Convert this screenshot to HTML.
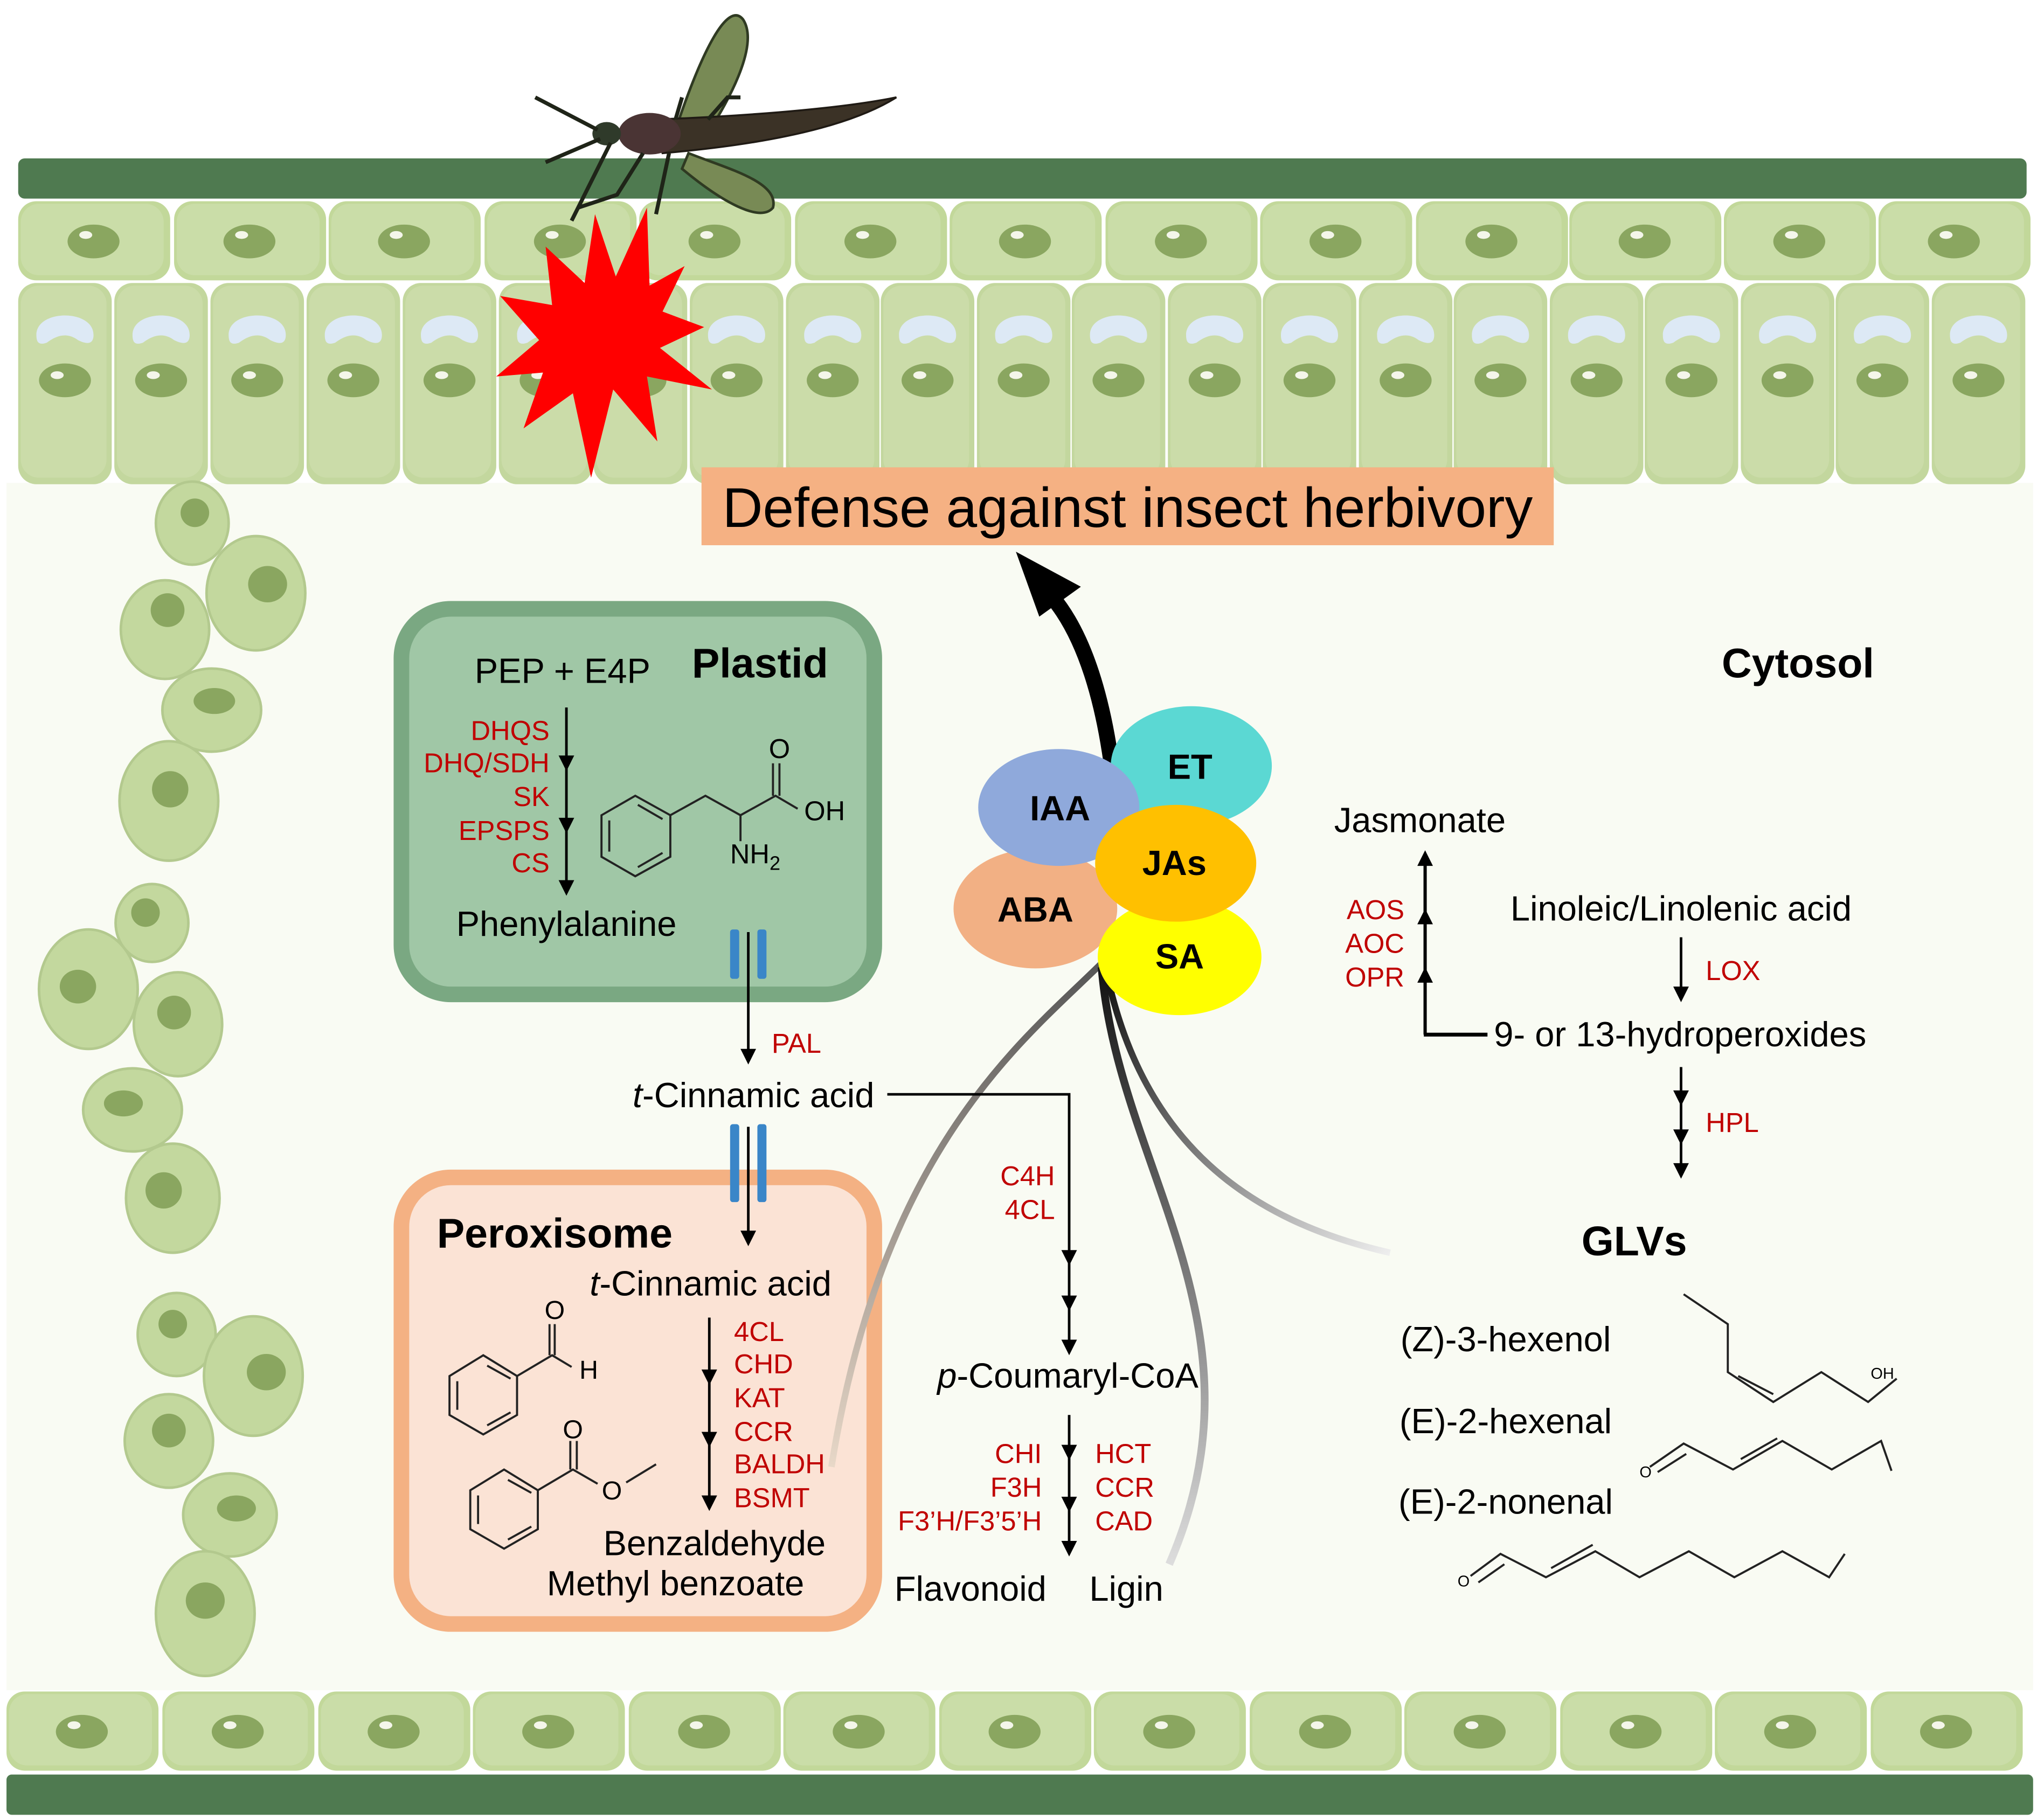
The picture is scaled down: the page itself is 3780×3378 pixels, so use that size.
<!DOCTYPE html>
<html><head><meta charset="utf-8"><style>
html,body{margin:0;padding:0;background:#fff;}
svg{display:block;}
text{font-family:"Liberation Sans",Arial,sans-serif;}
.r{fill:#c00000;font-size:21px;}
.k{fill:#000;font-size:27px;}
.b{font-weight:bold;font-size:32px;}
.mol{fill:none;stroke:#222;stroke-width:1.6;}
</style></head><body>
<svg width="3780" height="3378" viewBox="0 0 1568 1402" preserveAspectRatio="none" xmlns="http://www.w3.org/2000/svg">
<defs>
<linearGradient id="g1" x1="0" y1="0" x2="0" y2="1"><stop offset="0" stop-color="#555"/><stop offset="1" stop-color="#e8d8c8"/></linearGradient>
<linearGradient id="g2" x1="0" y1="0" x2="0" y2="1"><stop offset="0" stop-color="#111"/><stop offset="1" stop-color="#ddd"/></linearGradient>
<linearGradient id="g3" x1="0" y1="0" x2="1" y2="1"><stop offset="0" stop-color="#111"/><stop offset="1" stop-color="#eee"/></linearGradient>
<g id="tc"><rect x="0" y="0" width="117" height="61" rx="14" fill="#c2d89a"/><rect x="2" y="2" width="110" height="55" rx="14" fill="#cadda8"/><ellipse cx="58" cy="31" rx="20" ry="13" fill="#8aa660"/><ellipse cx="52" cy="26" rx="5" ry="3" fill="#f4f6ea"/></g>
<g id="tall"><rect x="0" y="0" width="72" height="155" rx="14" fill="#c3d79e"/><rect x="2" y="2" width="66" height="148" rx="14" fill="#cbdca9"/><path d="M14 40 C14 20 58 20 58 40 C58 48 52 47 46 44 C38 38 30 40 22 46 C16 48 14 46 14 40Z" fill="#dde9f5"/><ellipse cx="36" cy="75" rx="20" ry="13" fill="#8aa660"/><ellipse cx="30" cy="71" rx="5" ry="3" fill="#f4f6ea"/></g>
</defs>
<rect width="1568" height="1402" fill="#fff"/>
<rect x="5" y="372" width="1560" height="930" fill="#f9fbf3"/>
<rect x="14" y="122" width="1546" height="31" rx="5" fill="#4f7a50"/>
<g>
<use href="#tc" x="14" y="155"/><use href="#tc" x="134" y="155"/><use href="#tc" x="253" y="155"/><use href="#tc" x="373" y="155"/><use href="#tc" x="492" y="155"/><use href="#tc" x="612" y="155"/><use href="#tc" x="731" y="155"/><use href="#tc" x="851" y="155"/><use href="#tc" x="970" y="155"/><use href="#tc" x="1090" y="155"/><use href="#tc" x="1208" y="155"/><use href="#tc" x="1327" y="155"/><use href="#tc" x="1446" y="155"/>
</g>
<g>
<use href="#tall" x="14" y="218"/><use href="#tall" x="88" y="218"/><use href="#tall" x="162" y="218"/><use href="#tall" x="236" y="218"/><use href="#tall" x="310" y="218"/><use href="#tall" x="384" y="218"/><use href="#tall" x="457" y="218"/><use href="#tall" x="531" y="218"/><use href="#tall" x="605" y="218"/><use href="#tall" x="678" y="218"/><use href="#tall" x="752" y="218"/><use href="#tall" x="825" y="218"/><use href="#tall" x="899" y="218"/><use href="#tall" x="972" y="218"/><use href="#tall" x="1046" y="218"/><use href="#tall" x="1119" y="218"/><use href="#tall" x="1193" y="218"/><use href="#tall" x="1266" y="218"/><use href="#tall" x="1340" y="218"/><use href="#tall" x="1413" y="218"/><use href="#tall" x="1487" y="218"/>
</g>
<g>
<use href="#tc" x="5" y="1303"/><use href="#tc" x="125" y="1303"/><use href="#tc" x="245" y="1303"/><use href="#tc" x="364" y="1303"/><use href="#tc" x="484" y="1303"/><use href="#tc" x="603" y="1303"/><use href="#tc" x="723" y="1303"/><use href="#tc" x="842" y="1303"/><use href="#tc" x="962" y="1303"/><use href="#tc" x="1081" y="1303"/><use href="#tc" x="1201" y="1303"/><use href="#tc" x="1320" y="1303"/><use href="#tc" x="1440" y="1303"/>
</g>
<rect x="5" y="1367" width="1560" height="31" rx="4" fill="#4f7a50"/>
<g fill="#c3d89e" stroke="#b3c98e" stroke-width="2">
<ellipse cx="148" cy="403" rx="28" ry="32"/><ellipse cx="197" cy="457" rx="38" ry="44"/><ellipse cx="127" cy="485" rx="34" ry="38"/><ellipse cx="163" cy="547" rx="38" ry="32"/><ellipse cx="130" cy="617" rx="38" ry="46"/><ellipse cx="117" cy="711" rx="28" ry="30"/><ellipse cx="68" cy="762" rx="38" ry="46"/><ellipse cx="137" cy="789" rx="34" ry="40"/><ellipse cx="102" cy="855" rx="38" ry="32"/><ellipse cx="133" cy="923" rx="36" ry="42"/><ellipse cx="136" cy="1028" rx="30" ry="32"/><ellipse cx="195" cy="1060" rx="38" ry="46"/><ellipse cx="130" cy="1110" rx="34" ry="36"/><ellipse cx="177" cy="1167" rx="36" ry="32"/><ellipse cx="158" cy="1243" rx="38" ry="48"/>
</g>
<g fill="#8aa660">
<ellipse cx="150" cy="395" rx="11" ry="11"/><ellipse cx="206" cy="450" rx="15" ry="14"/><ellipse cx="129" cy="470" rx="13" ry="13"/><ellipse cx="165" cy="540" rx="16" ry="10"/><ellipse cx="131" cy="608" rx="14" ry="14"/><ellipse cx="112" cy="703" rx="11" ry="11"/><ellipse cx="60" cy="760" rx="14" ry="13"/><ellipse cx="134" cy="780" rx="13" ry="13"/><ellipse cx="95" cy="850" rx="15" ry="10"/><ellipse cx="126" cy="917" rx="14" ry="14"/><ellipse cx="133" cy="1020" rx="11" ry="11"/><ellipse cx="205" cy="1057" rx="15" ry="14"/><ellipse cx="130" cy="1102" rx="13" ry="13"/><ellipse cx="182" cy="1162" rx="15" ry="10"/><ellipse cx="158" cy="1233" rx="15" ry="14"/>
</g>
<polygon fill="#ff0000" points="542,252 508,268 548,300 498,290 506,340 472,300 455,368 441,303 403,330 418,287 382,290 415,262 385,228 425,235 420,190 450,218 458,165 474,213 498,160 500,220 527,205 510,240" />
<g>
<path d="M520 100 C540 40 560 0 572 15 C585 35 560 80 540 110 Z" fill="#788a55" stroke="#2f3a22" stroke-width="2"/>
<path d="M530 118 C560 130 600 140 595 160 C585 172 555 155 525 130 Z" fill="#788a55" stroke="#2f3a22" stroke-width="2"/>
<path d="M505 92 C560 90 640 85 690 75 C650 100 580 112 510 118 Z" fill="#3b3226" stroke="#1f1a14" stroke-width="1.5"/>
<ellipse cx="500" cy="103" rx="24" ry="16" fill="#4a3434"/>
<ellipse cx="467" cy="103" rx="11" ry="9" fill="#2f3a2a"/>
<g stroke="#1f2418" stroke-width="3" fill="none">
<path d="M460 100 L412 75"/><path d="M462 107 L420 125"/><path d="M470 110 L440 170"/><path d="M495 118 L475 150 L445 160"/><path d="M515 118 L505 165"/><path d="M520 92 L525 75"/><path d="M545 92 L560 75 L570 75"/>
</g>
</g>
<rect x="540" y="360" width="656" height="60" fill="#f5b183"/>
<text x="868" y="406" text-anchor="middle" style="font-size:43px" fill="#000">Defense against insect herbivory</text>
<rect x="309" y="469" width="364" height="297" rx="38" fill="#a0c7a6" stroke="#7aa882" stroke-width="12"/>
<rect x="309" y="907" width="364" height="344" rx="38" fill="#fbe3d5" stroke="#f4b183" stroke-width="12"/>
<path d="M850 740 C790 800 680 880 640 1130" fill="none" stroke="url(#g1)" stroke-width="5"/>
<path d="M848 745 C860 900 980 1020 900 1205" fill="none" stroke="url(#g2)" stroke-width="6"/>
<path d="M852 750 C880 880 960 940 1070 965" fill="none" stroke="url(#g3)" stroke-width="5"/>
<path d="M857 600 C850 540 835 490 810 460" fill="none" stroke="#000" stroke-width="12"/>
<polygon points="782,425 832,452 800,475" fill="#000"/>
<ellipse cx="917" cy="590" rx="62" ry="46" fill="#5bd8d3"/>
<ellipse cx="797" cy="700" rx="63" ry="46" fill="#f2b084"/>
<ellipse cx="815" cy="622" rx="62" ry="45" fill="#8fa9db"/>
<ellipse cx="908" cy="737" rx="63" ry="45" fill="#ffff00"/>
<ellipse cx="905" cy="665" rx="62" ry="45" fill="#ffc000"/>
<g font-weight="bold" font-size="27" text-anchor="middle" fill="#000">
<text x="916" y="600">ET</text><text x="816" y="632">IAA</text><text x="797" y="710">ABA</text><text x="904" y="674">JAs</text><text x="908" y="746">SA</text>
</g>
<text class="k" x="433" y="526" text-anchor="middle">PEP + E4P</text>
<text class="b" x="585" y="522" text-anchor="middle">Plastid</text>
<g text-anchor="end"><text class="r" x="423" y="570">DHQS</text><text class="r" x="423" y="595">DHQ/SDH</text><text class="r" x="423" y="621">SK</text><text class="r" x="423" y="647">EPSPS</text><text class="r" x="423" y="672">CS</text></g>
<line x1="436" y1="545" x2="436" y2="682" stroke="#000" stroke-width="2"/>
<polygon points="430,582 442,582 436,594" fill="#000"/><polygon points="430,630 442,630 436,642" fill="#000"/><polygon points="430,678 442,678 436,690" fill="#000"/>
<text class="k" x="436" y="721" text-anchor="middle">Phenylalanine</text>
<g class="mol"><polygon points="463,628 489,613 516,628 516,660 489,675 463,660"/><line x1="469" y1="632" x2="469" y2="656"/><line x1="491" y1="620" x2="510" y2="631"/><line x1="491" y1="668" x2="510" y2="657"/><polyline points="516,628 543,613 570,628 597,613 614,623"/><line x1="570" y1="628" x2="570" y2="648"/><line x1="595" y1="613" x2="595" y2="588"/><line x1="600" y1="613" x2="600" y2="588"/></g>
<text x="600" y="584" text-anchor="middle" font-size="21">O</text><text x="619" y="632" font-size="21">OH</text><text x="562" y="665" font-size="21">NH<tspan font-size="15" dy="5">2</tspan></text>
<g fill="#3a86c8"><rect x="562" y="716" width="7" height="38" rx="2"/><rect x="583" y="716" width="7" height="38" rx="2"/><rect x="562" y="866" width="7" height="60" rx="2"/><rect x="583" y="866" width="7" height="60" rx="2"/></g>
<line x1="576" y1="718" x2="576" y2="810" stroke="#000" stroke-width="2"/><polygon points="570,808 582,808 576,820" fill="#000"/>
<text class="r" x="594" y="811">PAL</text>
<text class="k" x="580" y="853" text-anchor="middle"><tspan font-style="italic">t</tspan>-Cinnamic acid</text>
<line x1="576" y1="868" x2="576" y2="950" stroke="#000" stroke-width="2"/><polygon points="570,948 582,948 576,960" fill="#000"/>
<polyline points="683,843 823,843 823,1035" fill="none" stroke="#000" stroke-width="2"/>
<polygon points="817,963 829,963 823,975" fill="#000"/><polygon points="817,998 829,998 823,1010" fill="#000"/><polygon points="817,1032 829,1032 823,1044" fill="#000"/>
<text class="r" x="812" y="913" text-anchor="end">C4H</text><text class="r" x="812" y="939" text-anchor="end">4CL</text>
<text class="k" x="822" y="1069" text-anchor="middle"><tspan font-style="italic">p</tspan>-Coumaryl-CoA</text>
<line x1="823" y1="1090" x2="823" y2="1190" stroke="#000" stroke-width="2"/>
<polygon points="817,1113 829,1113 823,1125" fill="#000"/><polygon points="817,1153 829,1153 823,1165" fill="#000"/><polygon points="817,1187 829,1187 823,1199" fill="#000"/>
<g text-anchor="end"><text class="r" x="802" y="1127">CHI</text><text class="r" x="802" y="1153">F3H</text><text class="r" x="802" y="1179">F3’H/F3’5’H</text></g>
<text class="r" x="843" y="1127">HCT</text><text class="r" x="843" y="1153">CCR</text><text class="r" x="843" y="1179">CAD</text>
<text class="k" x="747" y="1233" text-anchor="middle">Flavonoid</text><text class="k" x="867" y="1233" text-anchor="middle">Ligin</text>
<text class="b" x="427" y="961" text-anchor="middle">Peroxisome</text>
<text class="k" x="547" y="998" text-anchor="middle"><tspan font-style="italic">t</tspan>-Cinnamic acid</text>
<line x1="546" y1="1015" x2="546" y2="1155" stroke="#000" stroke-width="2"/>
<polygon points="540,1055 552,1055 546,1067" fill="#000"/><polygon points="540,1103 552,1103 546,1115" fill="#000"/><polygon points="540,1152 552,1152 546,1164" fill="#000"/>
<text class="r" x="565" y="1033">4CL</text><text class="r" x="565" y="1058">CHD</text><text class="r" x="565" y="1084">KAT</text><text class="r" x="565" y="1110">CCR</text><text class="r" x="565" y="1135">BALDH</text><text class="r" x="565" y="1161">BSMT</text>
<text class="k" x="550" y="1198" text-anchor="middle">Benzaldehyde</text>
<text class="k" x="520" y="1229" text-anchor="middle">Methyl benzoate</text>
<g class="mol"><polygon points="346,1060 372,1044 398,1060 398,1090 372,1105 346,1090"/><line x1="352" y1="1064" x2="352" y2="1086"/><line x1="375" y1="1052" x2="393" y2="1062"/><line x1="375" y1="1098" x2="393" y2="1088"/><polyline points="398,1060 425,1044 440,1053"/><line x1="423" y1="1044" x2="423" y2="1020"/><line x1="427" y1="1044" x2="427" y2="1020"/>
<polygon points="362,1148 388,1132 414,1148 414,1178 388,1193 362,1178"/><line x1="368" y1="1152" x2="368" y2="1174"/><line x1="391" y1="1140" x2="409" y2="1150"/><line x1="391" y1="1186" x2="409" y2="1176"/><polyline points="414,1148 441,1132 460,1143"/><line x1="439" y1="1132" x2="439" y2="1110"/><line x1="444" y1="1132" x2="444" y2="1110"/><line x1="482" y1="1142" x2="505" y2="1128"/></g>
<text x="427" y="1016" text-anchor="middle" font-size="20">O</text><text x="446" y="1062" font-size="20">H</text><text x="441" y="1108" text-anchor="middle" font-size="20">O</text><text x="471" y="1155" text-anchor="middle" font-size="20">O</text>
<text class="b" x="1384" y="522" text-anchor="middle">Cytosol</text>
<text class="k" x="1093" y="641" text-anchor="middle">Jasmonate</text>
<polyline points="1097,797 1097,662" fill="none" stroke="#000" stroke-width="2.5"/>
<line x1="1096" y1="797" x2="1145" y2="797" stroke="#000" stroke-width="3"/>
<polygon points="1091,667 1103,667 1097,655" fill="#000"/><polygon points="1091,712 1103,712 1097,700" fill="#000"/><polygon points="1091,757 1103,757 1097,745" fill="#000"/>
<g text-anchor="end"><text class="r" x="1081" y="708">AOS</text><text class="r" x="1081" y="734">AOC</text><text class="r" x="1081" y="760">OPR</text></g>
<text class="k" x="1294" y="709" text-anchor="middle">Linoleic/Linolenic acid</text>
<line x1="1294" y1="722" x2="1294" y2="764" stroke="#000" stroke-width="2"/><polygon points="1288,760 1300,760 1294,772" fill="#000"/>
<text class="r" x="1313" y="755">LOX</text>
<text class="k" x="1150" y="806">9- or 13-hydroperoxides</text>
<line x1="1294" y1="822" x2="1294" y2="900" stroke="#000" stroke-width="2"/>
<polygon points="1288,840 1300,840 1294,852" fill="#000"/><polygon points="1288,870 1300,870 1294,882" fill="#000"/><polygon points="1288,896 1300,896 1294,908" fill="#000"/>
<text class="r" x="1313" y="872">HPL</text>
<text class="b" x="1258" y="967" text-anchor="middle">GLVs</text>
<text class="k" x="1159" y="1041" text-anchor="middle">(Z)-3-hexenol</text>
<text class="k" x="1159" y="1104" text-anchor="middle">(E)-2-hexenal</text>
<text class="k" x="1159" y="1166" text-anchor="middle">(E)-2-nonenal</text>
<g class="mol">
<polyline points="1296,997 1330,1020 1330,1057 1365,1080 1402,1057 1438,1080 1460,1062"/><line x1="1338" y1="1060" x2="1365" y2="1074"/>
<polyline points="1270,1130 1296,1112 1334,1132 1372,1110 1410,1132 1448,1110 1456,1133"/><line x1="1276" y1="1134" x2="1298" y2="1120"/><line x1="1340" y1="1124" x2="1368" y2="1108"/>
<polyline points="1132,1214 1155,1197 1190,1215 1228,1195 1262,1215 1300,1195 1335,1215 1372,1195 1408,1215 1420,1197"/><line x1="1138" y1="1219" x2="1158" y2="1205"/><line x1="1194" y1="1208" x2="1226" y2="1190"/>
</g>
<text x="1440" y="1062" font-size="12">OH</text><text x="1262" y="1138" font-size="12">O</text><text x="1122" y="1222" font-size="12">O</text>
</svg>
</body></html>
